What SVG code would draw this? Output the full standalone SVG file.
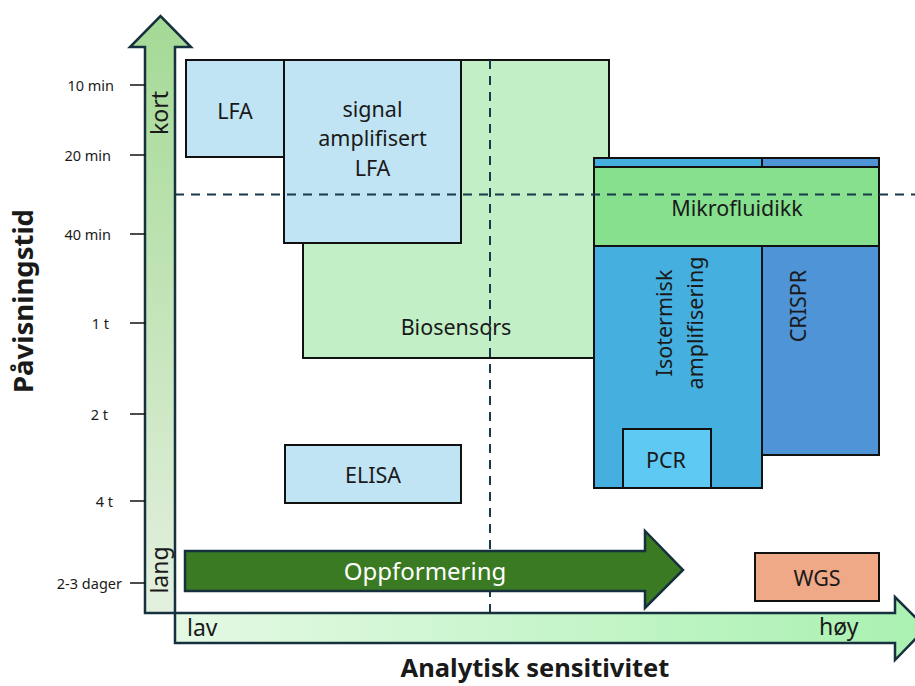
<svg xmlns="http://www.w3.org/2000/svg" width="915" height="686" viewBox="0 0 915 686">
<defs>
<linearGradient id="gv" x1="0" y1="0" x2="0" y2="1"><stop offset="0" stop-color="#a4d995"/><stop offset="1" stop-color="#e4f0df"/></linearGradient>
<linearGradient id="gh" x1="0" y1="0" x2="1" y2="0"><stop offset="0" stop-color="#e4f9e4"/><stop offset="1" stop-color="#a9f1b1"/></linearGradient>
</defs>
<style>
text{font-family:"Noto Sans","Open Sans","DejaVu Sans",sans-serif;fill:#1a1a1a}
.box{stroke:#111;stroke-width:2}
.lb{font-size:21.5px;text-anchor:middle;dominant-baseline:central}
.tk{font-size:14.5px;text-anchor:end;dominant-baseline:central}
.tick{stroke:#111;stroke-width:1.5}
.ax{stroke:#17303d;stroke-width:2.5}
.dash{stroke:#17394a;stroke-width:2;stroke-dasharray:9 7;fill:none}
.big{font-size:25.5px;font-weight:bold;text-anchor:middle}
.axl{font-size:23px}
</style>
<g id="nodes">
<g id="biosensors"><rect class="box" x="303" y="60" width="306" height="298" fill="#c2efc6"/><text class="lb" x="456" y="326">Biosensors</text></g>
<g id="signal-lfa"><rect class="box" x="284" y="60" width="177" height="183" fill="#c1e4f4"/><text class="lb" x="372.5" y="108">signal</text><text class="lb" x="372.5" y="137">amplifisert</text><text class="lb" x="372.5" y="167">LFA</text></g>
<g id="lfa"><rect class="box" x="186" y="60" width="98" height="97" fill="#c1e4f4"/><text class="lb" x="235" y="110">LFA</text></g>
<g id="elisa"><rect class="box" x="285" y="445" width="176" height="58" fill="#c1e4f4"/><text class="lb" x="373" y="474">ELISA</text></g>
<g id="isotermisk"><rect class="box" x="594" y="158" width="168" height="330" fill="#45b0e0"/><text class="lb" transform="translate(663,323) rotate(-90)">Isotermisk</text><text class="lb" transform="translate(694,323) rotate(-90)">amplifisering</text></g>
<g id="crispr"><rect class="box" x="762" y="158" width="117" height="297" fill="#4f94d6"/><text class="lb" transform="translate(797,306) rotate(-90)">CRISPR</text></g>
<g id="pcr"><rect class="box" x="623" y="429" width="88" height="59" fill="#5ec9f2"/><text class="lb" x="666" y="459">PCR</text></g>
<g id="mikrofluidikk"><rect class="box" x="594" y="167" width="285" height="79" fill="#86e08e"/><text class="lb" x="737" y="207">Mikrofluidikk</text></g>
<g id="wgs"><rect class="box" x="755" y="553" width="124" height="48" fill="#f0a987"/><text class="lb" x="817" y="577">WGS</text></g>
</g>
<g id="connectors">
<line class="dash" x1="175" y1="194.5" x2="915" y2="194.5"/>
<line class="dash" x1="490" y1="60" x2="490" y2="612"/>
</g>
<g id="oppformering"><path d="M185,551 L645,551 L645,531 L683,570 L645,608 L645,591 L185,591 Z" fill="#3a7a23" stroke="#17303d" stroke-width="2.5"/><text x="425" y="570" style="font-size:24px;fill:#fff;text-anchor:middle;dominant-baseline:central">Oppformering</text></g>
<g id="axes">
<path class="ax" d="M145,613 L145,47 L130,47 L160.5,16 L191,47 L175,47 L175,613 Z" fill="url(#gv)"/>
<path class="ax" d="M175,613 L895,613 L895,597 L926,628 L895,660 L895,643 L175,643 Z" fill="url(#gh)"/>
<text class="axl" transform="translate(168,113) rotate(-90)" style="text-anchor:middle">kort</text>
<text class="axl" transform="translate(168,570) rotate(-90)" style="text-anchor:middle">lang</text>
<text class="axl" x="187" y="636">lav</text>
<text class="axl" x="819" y="635">høy</text>
<line class="tick" x1="130" y1="85" x2="145" y2="85"/>
<line class="tick" x1="130" y1="155" x2="145" y2="155"/>
<line class="tick" x1="130" y1="234" x2="145" y2="234"/>
<line class="tick" x1="130" y1="323" x2="145" y2="323"/>
<line class="tick" x1="130" y1="414" x2="145" y2="414"/>
<line class="tick" x1="130" y1="501" x2="145" y2="501"/>
<line class="tick" x1="130" y1="583" x2="145" y2="583"/>
<text class="tk" x="114" y="85">10 min</text>
<text class="tk" x="111" y="155">20 min</text>
<text class="tk" x="111" y="234">40 min</text>
<text class="tk" x="109" y="323">1 t</text>
<text class="tk" x="108" y="414">2 t</text>
<text class="tk" x="113" y="501">4 t</text>
<text class="tk" x="122" y="583">2-3 dager</text>
<text class="big" transform="translate(33,301) rotate(-90)" style="font-size:27.5px">Påvisningstid</text>
<text class="big" x="535" y="677">Analytisk sensitivitet</text>
</g>
</svg>
